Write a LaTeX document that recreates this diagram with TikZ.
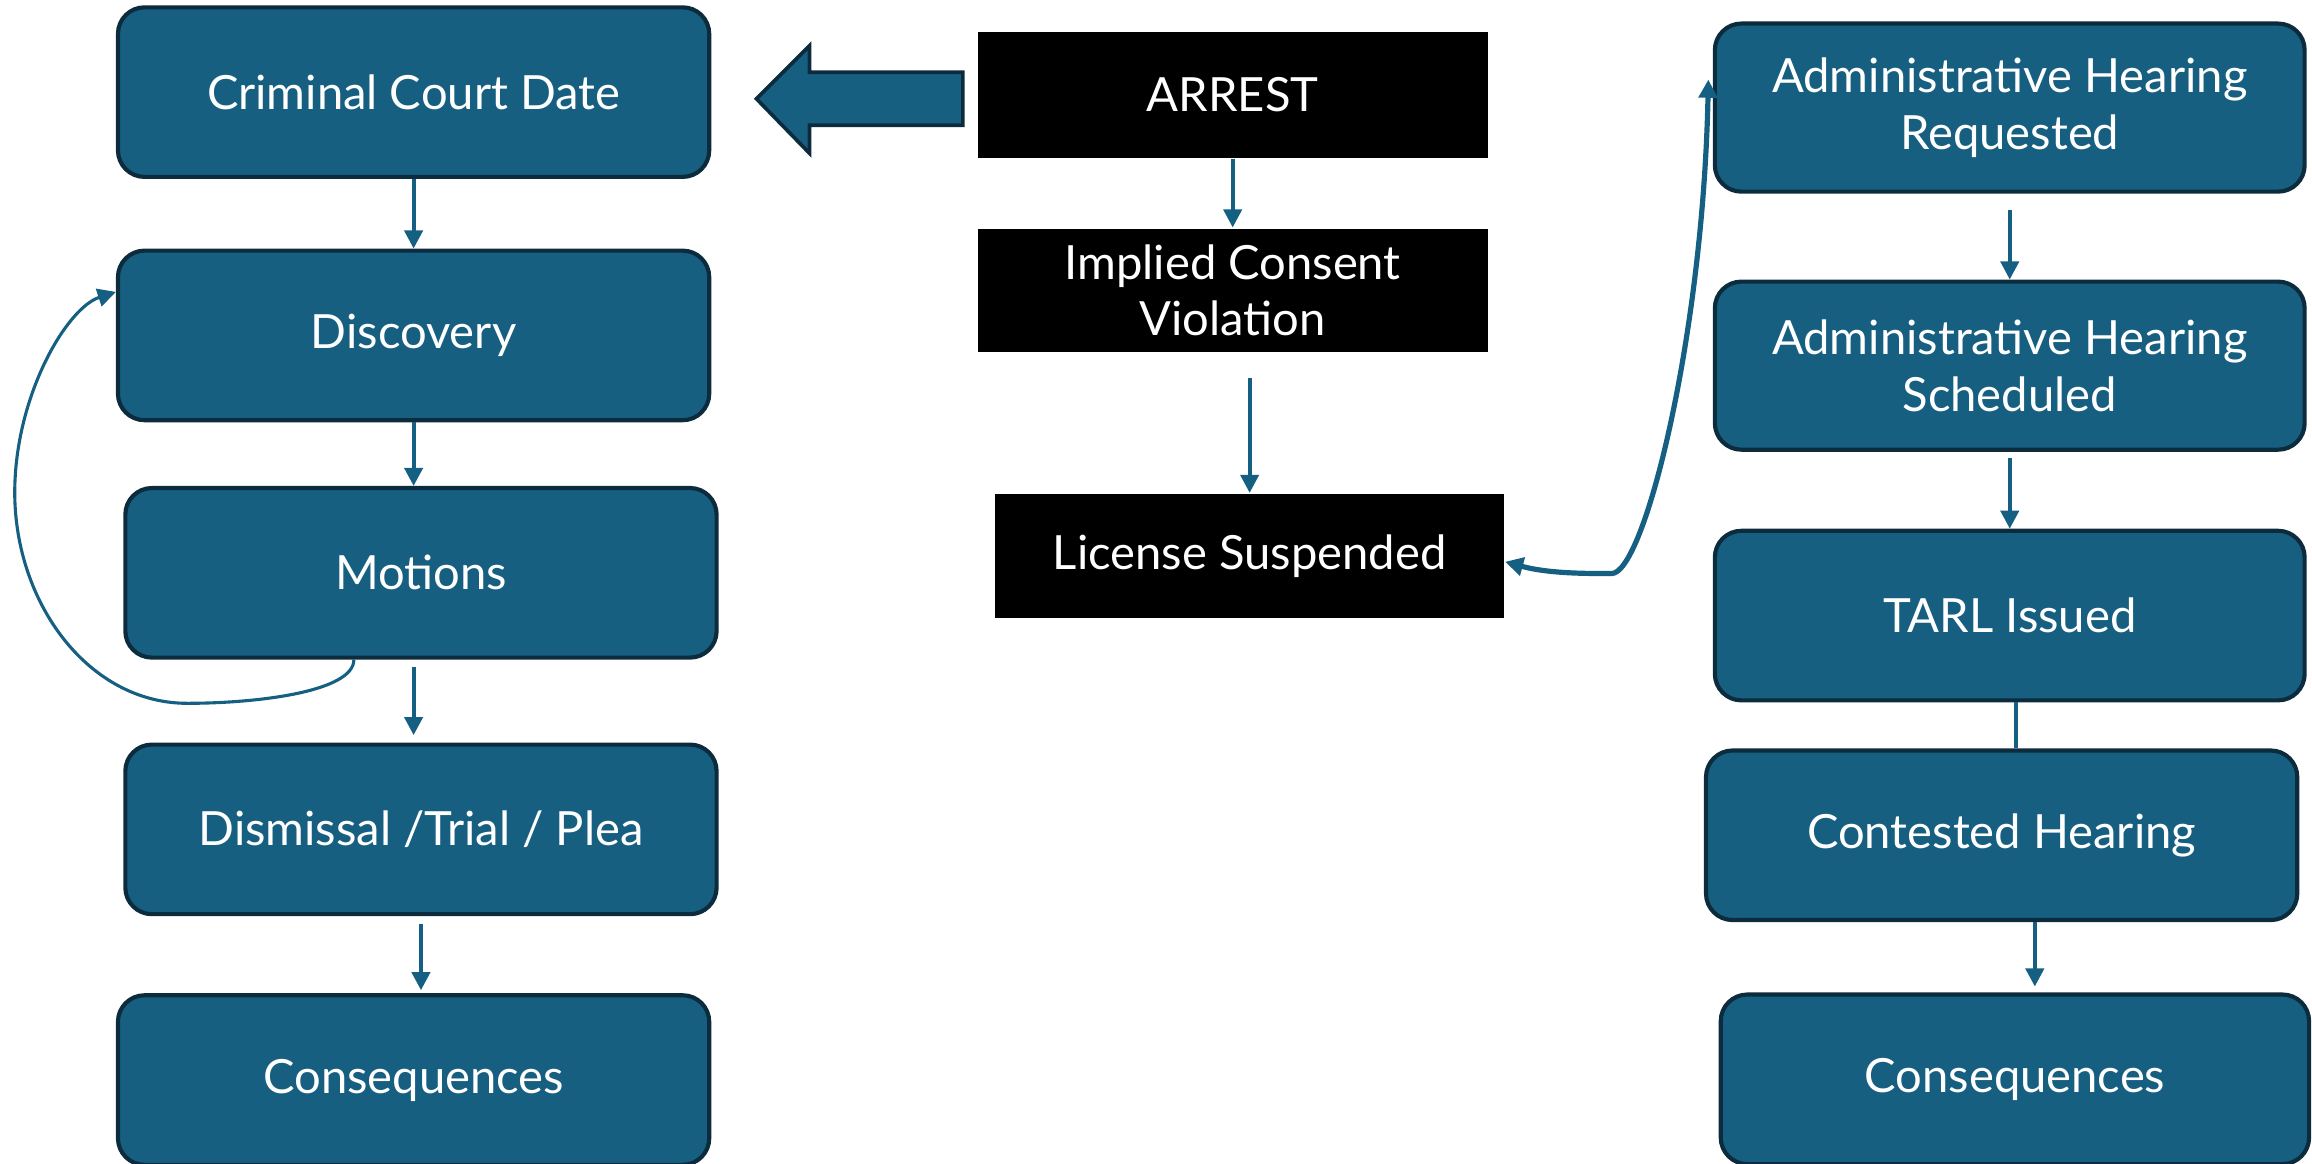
\documentclass[tikz,border=0pt]{standalone}
\usepackage{fontspec}
\setmainfont{Lato}
\usetikzlibrary{arrows.meta}
\definecolor{boxblue}{HTML}{175F81}
\definecolor{boxedge}{HTML}{0C2C3D}
\definecolor{linkblue}{HTML}{156082}

\begin{document}
\begin{tikzpicture}[
		stage/.style = {draw=boxedge, line width=0.8pt, fill=boxblue, rounded corners=0.18cm,
			minimum width=4.01cm, minimum height=1.15cm, inner sep=0pt, text=white,
			align=center, font=\fontsize{9.1}{10.9}\selectfont},
		event/.style = {fill=black, minimum width=3.46cm, minimum height=0.85cm, inner sep=0pt,
			text=white, align=center, font=\fontsize{9.1}{10.9}\selectfont},
		link/.style = {draw=linkblue, line width=0.75pt, -{Triangle[length=3.5pt,width=3.5pt]}}
	]
		\useasboundingbox (0,0) rectangle (15.68,7.89);
		
		% criminal side
		\node [stage] (court) at (2.805,7.265) {Criminal Court Date};
		\node [stage] (disc) at (2.805,5.615) {Discovery};
		\node [stage] (mot) at (2.855,4.005) {Motions};
		\node [stage] (dis) at (2.855,2.265) {Dismissal /Trial / Plea};
		\node [stage] (consl) at (2.805,0.565) {Consequences};
		
		\draw [link] (court.south) -- (disc.north);
		\draw [link] (disc.south) -- (disc.south |- mot.north);
		\draw [link, shorten <=0.05cm, shorten >=0.05cm] (mot.south -| disc.south) -- (dis.north -| disc.south);
		\draw [link, shorten <=0.05cm, shorten >=0.02cm] (dis.south) -- (dis.south |- consl.north);
		\draw [link, line width=0.6pt] ([xshift=-0.455cm]mot.south) .. controls (2.40,3.20) and (1.75,3.12) .. (1.27,3.12)
			.. controls (0.60,3.12) and (0.10,3.80) .. (0.10,4.55)
			.. controls (0.10,5.20) and (0.45,5.80) .. ([yshift=0.295cm]disc.west);
		
		% middle
		\node [event] (arrest) at (8.36,7.245) {ARREST};
		\node [event, minimum height=0.84cm] (icv) at (8.36,5.92) {Implied Consent\\Violation};
		\node [event, minimum width=3.45cm, minimum height=0.84cm] (ls) at (8.475,4.12) {License Suspended};
		
		\draw [fill=boxblue, draw=boxedge, line width=0.7pt] (5.13,7.22) -- (5.49,7.58) -- (5.49,7.40) -- (6.53,7.40)
			-- (6.53,7.04) -- (5.49,7.04) -- (5.49,6.85) -- cycle;
		\draw [link] (arrest) -- (icv);
		\draw [link, shorten <=0.17cm] (icv.south -| ls.north) -- (ls.north);
		
		% administrative side
		\node [stage, minimum width=4.0cm, minimum height=1.14cm] (ahr) at (13.63,7.16) {Administrative Hearing\\Requested};
		\node [stage, minimum width=4.0cm, minimum height=1.14cm] (ahs) at (13.63,5.41) {Administrative Hearing\\Scheduled};
		\node [stage, minimum width=4.0cm] (tarl) at (13.63,3.715) {TARL Issued};
		\node [stage] (cont) at (13.575,2.225) {Contested Hearing};
		\node [stage, minimum width=3.99cm] (consr) at (13.665,0.57) {Consequences};
		
		\draw [link, shorten <=0.11cm] (ahr.south) -- (ahs.north);
		\draw [link, shorten <=0.04cm] (ahs.south) -- (tarl.north);
		\draw [link, -] ([xshift=0.04cm]tarl.south) -- ([xshift=0.04cm]tarl.south |- cont.north);
		\draw [link, shorten >=0.04cm] ([xshift=0.225cm]cont.south) -- ([xshift=0.225cm]cont.south |- consr.north);
		
		\draw [link, line width=1pt, {Triangle[length=3.5pt,width=3.5pt]}-{Triangle[length=3.5pt,width=3.5pt]}]
			([yshift=-0.04cm]ls.east) .. controls (10.50,4.00) and (10.75,4.00) .. (10.93,4.00)
			.. controls (11.15,4.00) and (11.55,5.60) .. ([xshift=-0.03cm,yshift=0.19cm]ahr.west);
	\end{tikzpicture}
\end{document}
